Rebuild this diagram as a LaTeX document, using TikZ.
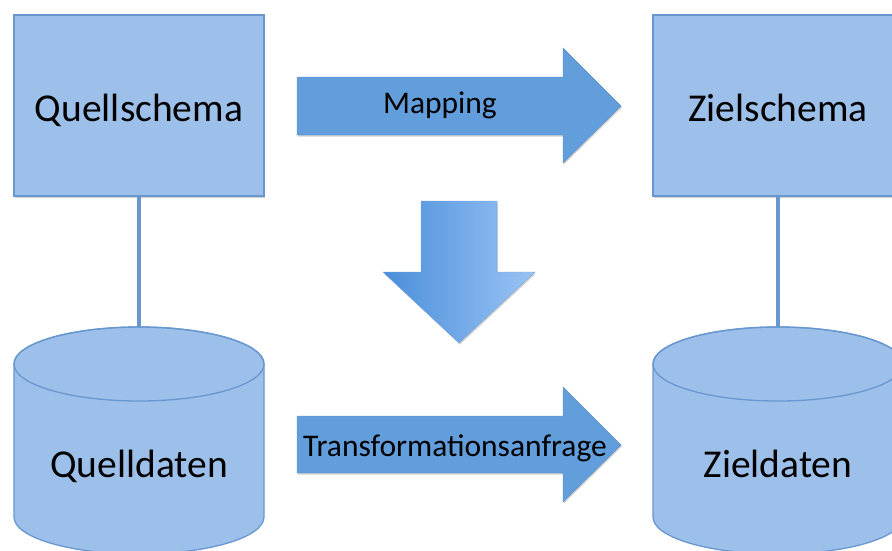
\documentclass[tikz,border=0pt]{standalone}
\usepackage{fontspec}
\setmainfont{Carlito}
\usetikzlibrary{shadows}
\definecolor{boxfill}{RGB}{157,192,234}
\definecolor{boxline}{RGB}{104,151,208}
\definecolor{arrowfill}{RGB}{98,158,220}
\definecolor{shadeleft}{RGB}{74,143,218}
\definecolor{shaderight}{RGB}{155,195,245}
\tikzset{
  softshadow/.style={drop shadow={shadow xshift=1pt, shadow yshift=-1.5pt, opacity=0.18, fill=black}},
  schemabox/.style={draw=boxline, line width=1.3pt, fill=boxfill, softshadow,
    minimum width=250pt, minimum height=181pt, inner sep=0pt},
  cylbody/.style={draw=boxline, line width=1.3pt, fill=boxfill},
  link/.style={draw=boxline, line width=3.6pt},
  bigarrow/.style={fill=arrowfill, draw=arrowfill!90!black, line width=0.4pt, softshadow},
  bigtext/.style={font=\fontsize{39.5}{44}\selectfont, anchor=base, inner sep=0pt},
  arrowtext/.style={anchor=base, inner sep=0pt}
}
\begin{document}
\begin{tikzpicture}[x=1pt, y=-1pt]
\useasboundingbox (0,0) rectangle (892,550);
\clip (0,0) rectangle (892,550);

% schema boxes
\node[schemabox] (qs) at (139,105.5) {};
\node[schemabox] (zs) at (778,105.5) {};
\node[bigtext] (qst) at (139,121) {Quellschema};
\node[bigtext] (zst) at (778,121) {Zielschema};

% database cylinders (y axis points down, so arc angles run the other way)
\foreach \cx/\nm in {139/qd, 778/zd} {
  \path[cylbody] (\cx-125,364) -- (\cx-125,517)
    arc[start angle=180, end angle=0, x radius=125, y radius=37]
    -- (\cx+125,364)
    arc[start angle=0, end angle=-180, x radius=125, y radius=37] -- cycle;
  \draw[boxline, line width=1.3pt] (\cx,364) ellipse[x radius=125, y radius=37];
  \coordinate (\nm top) at (\cx,327);
}
\node[bigtext] (qdt) at (139,477) {Quelldaten};
\node[bigtext] (zdt) at (778,477) {Zieldaten};

% schema to data links
\draw[link] (qs.south) -- (qdtop);
\draw[link] (zs.south) -- (zdtop);

% block arrows
\path[bigarrow] (297,77) -- (563,77) -- (563,48) -- (621,106) -- (563,163)
  -- (563,135) -- (297,135) -- cycle;
\node[arrowtext, font=\fontsize{31.5}{35}\selectfont] (map) at (440,113) {Mapping};

\path[bigarrow] (297,416) -- (563,416) -- (563,387) -- (621,445) -- (563,502)
  -- (563,473) -- (297,473) -- cycle;
\node[arrowtext, font=\fontsize{31.5}{35}\selectfont] (tra) at (455,456) {Transformationsanfrage};

\path[left color=shadeleft, right color=shaderight, draw=shadeleft!80!white,
  line width=0.4pt, softshadow]
  (421,201) -- (497,201) -- (497,272) -- (535,272) -- (459,343)
  -- (383,272) -- (421,272) -- cycle;
\end{tikzpicture}
\end{document}
